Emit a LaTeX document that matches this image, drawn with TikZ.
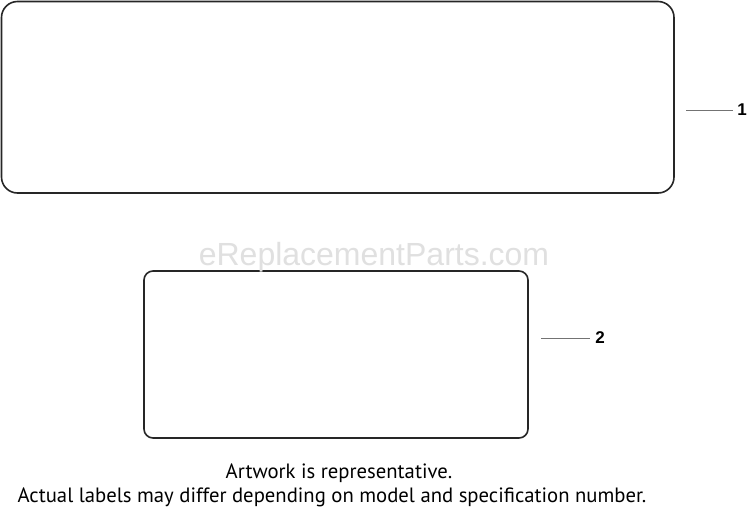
\documentclass[tikz,border=0pt]{standalone}
\usepackage{fontspec}
\setmainfont{PT Sans}
\newfontfamily\wmfont{Liberation Sans}
\newfontfamily\numfont{Liberation Sans}
\tikzset{
  labelbox/.style={draw=black!85, line width=1.6pt},
  leader/.style={draw=black!55, line width=0.9pt},
  callout/.style={font=\numfont\bfseries\fontsize{17}{17}\selectfont, inner sep=0pt},
  note/.style={font=\fontsize{20.7}{24}\selectfont, inner sep=0pt, align=center}
}
\begin{document}
\begin{tikzpicture}[x=1pt,y=-1pt]
\useasboundingbox[fill=white] (0,0) rectangle (750,509);
\draw[labelbox, rounded corners=16pt] (1.5,1.5) rectangle (674,193);
\draw[labelbox, rounded corners=9pt] (144,271) rectangle (528,438);
\node[font=\wmfont\fontsize{32}{32}\selectfont, text=black!12, inner sep=0pt] (wm) at (374,257) {eReplacementParts.com};
\coordinate (l1a) at (686,110);
\node[callout] (n1) at (742,110) {1};
\draw[leader] (l1a) -- ++(47,0);
\coordinate (l2a) at (541,338);
\node[callout] (n2) at (600,338) {2};
\draw[leader] (l2a) -- ++(49,0);
\node[note] (t1) at (339,473) {Artwork is representative.};
\node[note] (t2) at (332,497) {Actual labels may differ depending on model and specification number.};
\end{tikzpicture}
\end{document}
